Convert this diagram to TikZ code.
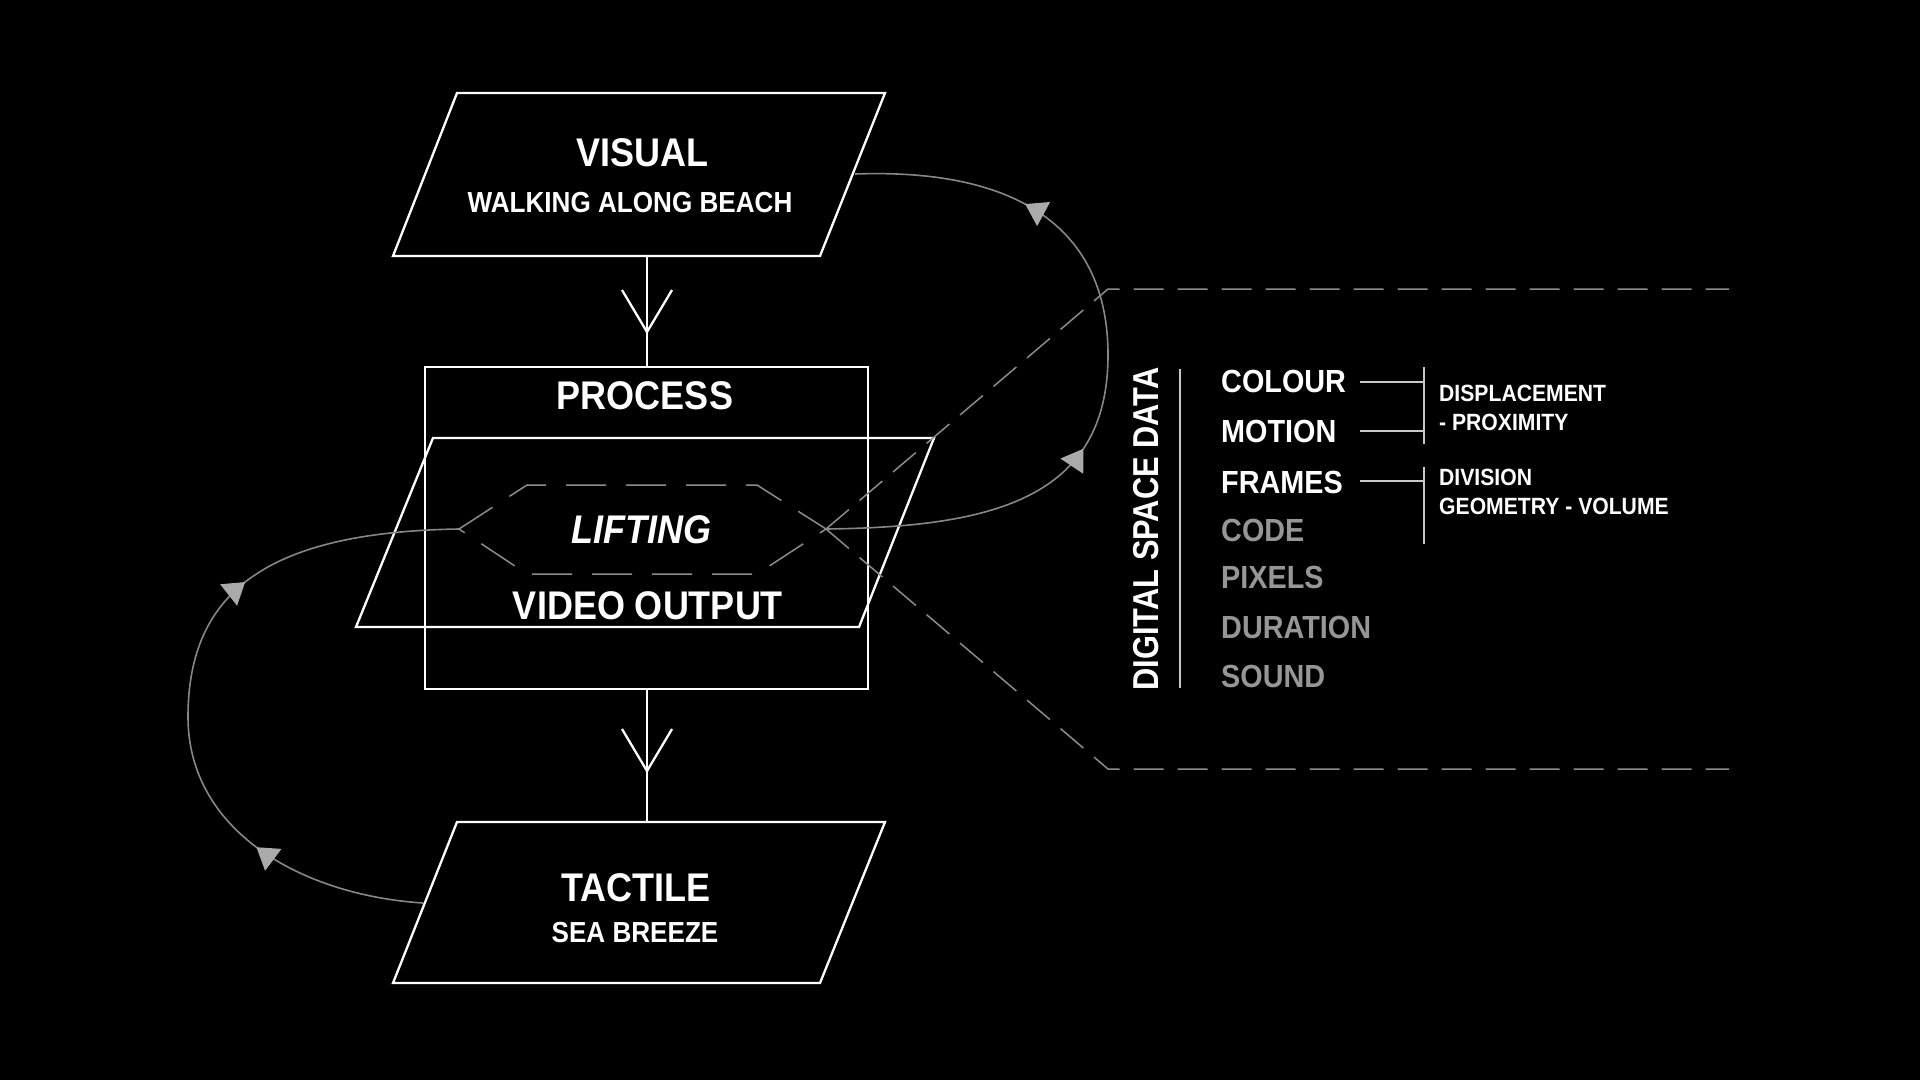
\documentclass[tikz,border=0pt]{standalone}
\usepackage{fontspec}
\setmainfont{Liberation Sans}[FakeStretch=0.9]
\newfontfamily\narrowfont{Liberation Sans}[FakeStretch=0.855]
\usetikzlibrary{arrows.meta,decorations.markings}
\definecolor{curvegray}{RGB}{135,135,135}
\definecolor{tipgray}{RGB}{170,170,170}
\definecolor{dashgray}{RGB}{140,140,140}
\definecolor{dimtxt}{RGB}{150,150,150}
\definecolor{treegray}{RGB}{200,200,200}
\begin{document}
\begin{tikzpicture}[x=1pt,y=-1pt,
  shapeline/.style={draw=white, line width=2.3pt, line join=miter},
  flowline/.style={draw=white, line width=2.3pt},
  loopcurve/.style={draw=curvegray, line width=1.6pt},
  hexdash/.style={draw=dashgray, line width=1.5pt, dash pattern=on 40pt off 20pt},
  longdash/.style={draw=dashgray, line width=1.5pt, dash pattern=on 30pt off 14pt},
  treeline/.style={draw=treegray, line width=1.5pt},
  bigtxt/.style={text=white, inner sep=0pt, font=\fontsize{40}{44}\selectfont\bfseries},
  subtxt/.style={text=white, inner sep=0pt, font=\fontsize{29}{32}\selectfont\bfseries},
  listtxt/.style={text=white, inner sep=0pt, anchor=west, font=\fontsize{32}{36}\selectfont\bfseries},
  dimlist/.style={listtxt, text=dimtxt},
  notetxt/.style={text=white, inner sep=0pt, anchor=west, font=\fontsize{23.5}{26}\selectfont\bfseries},
  flowtips/.style 2 args={postaction={decorate}, decoration={markings,
     mark=at position #1 with {\arrow{Triangle[length=21pt,width=27pt,color=tipgray]}},
     mark=at position #2 with {\arrow{Triangle[length=21pt,width=27pt,color=tipgray]}}}},
]
\fill[black] (0,0) rectangle (1920,1080);
\useasboundingbox (0,0) rectangle (1920,1080);

% ---------- VISUAL ----------
\coordinate (vis1) at (457,93);
\coordinate (vis2) at (885,93);
\coordinate (vis3) at (820,256);
\coordinate (vis4) at (393,256);
\draw[shapeline] (vis1) -- (vis2) -- (vis3) -- (vis4) -- cycle;
\node[bigtxt] (visual) at (642,153) {VISUAL};
\node[subtxt] (walking) at (630,203) {WALKING ALONG BEACH};
\coordinate (visbot) at (647,256);
\coordinate (visR) at (855,174);

% ---------- PROCESS ----------
\coordinate (proc1) at (425,367);
\coordinate (proc2) at (868,689);
\draw[shapeline] (proc1) rectangle (proc2);
\node[bigtxt] (process) at (645,396) {PROCESS};
\coordinate (proctop) at (647,367);
\coordinate (procbot) at (647,689);

% ---------- VIDEO OUTPUT ----------
\coordinate (vid1) at (433,438);
\coordinate (vid2) at (934,438);
\coordinate (vid3) at (859,627);
\coordinate (vid4) at (356,627);
\draw[shapeline] (vid1) -- (vid2) -- (vid3) -- (vid4) -- cycle;
\node[bigtxt] (video) at (648,606) {VIDEO OUTPUT};

% ---------- LIFTING ----------
\coordinate (liftL) at (459,529);
\coordinate (liftR) at (826,529);
\draw[hexdash] (liftL) -- (527,485) -- (757,485) -- (liftR) -- (757,574) -- (527,574) -- cycle;
\node[bigtxt, font=\fontsize{40}{44}\selectfont\bfseries\itshape] (lifting) at (641,530) {LIFTING};

% ---------- TACTILE ----------
\coordinate (tac1) at (457,822);
\coordinate (tac2) at (885,822);
\coordinate (tac3) at (820,983);
\coordinate (tac4) at (393,983);
\draw[shapeline] (tac1) -- (tac2) -- (tac3) -- (tac4) -- cycle;
\node[bigtxt] (tactile) at (636,888) {TACTILE};
\node[subtxt] (breeze) at (635,933) {SEA BREEZE};
\coordinate (tactop) at (647,822);
\coordinate (tacL) at (423,903);

% ---------- main flow ----------
\draw[flowline] (visbot) -- (proctop);
\draw[flowline] (622,290) -- (647,332) -- (672,290);
\draw[flowline] (procbot) -- (tactop);
\draw[flowline] (622,729) -- (647,771) -- (672,729);

% ---------- loops ----------
\draw[loopcurve, flowtips={280pt}{560pt}] (liftR) .. controls (990,527) and (1108,500) .. (1108,355)
   .. controls (1108,230) and (1020,168) .. (visR);
\draw[loopcurve, flowtips={178pt}{483pt}] (tacL) .. controls (300,895) and (188,830) .. (188,717)
   .. controls (188,590) and (270,532) .. (liftL);

% ---------- digital space zoom lines ----------
\coordinate (zoomTop) at (1108,289);
\coordinate (zoomBot) at (1108,769);
\coordinate (zoomTopEnd) at (1729,289);
\coordinate (zoomBotEnd) at (1729,769);
\draw[longdash] (liftR) -- (zoomTop) -- (zoomTopEnd);
\draw[longdash] (liftR) -- (zoomBot) -- (zoomBotEnd);

% ---------- DIGITAL SPACE DATA ----------
\node[text=white, inner sep=0pt, rotate=90, font=\narrowfont\fontsize{36}{40}\selectfont\bfseries] (dsd) at (1146,529) {DIGITAL SPACE DATA};
\coordinate (sepTop) at (1180,369);
\coordinate (sepBot) at (1180,688);
\draw[treeline] (sepTop) -- (sepBot);

\node[listtxt] (colour) at (1221,381) {COLOUR};
\node[listtxt] (motion) at (1221,431) {MOTION};
\node[listtxt] (frames) at (1221,482) {FRAMES};
\node[dimlist] (code) at (1221,530) {CODE};
\node[dimlist] (pixels) at (1221,577) {PIXELS};
\node[dimlist] (duration) at (1221,627) {DURATION};
\node[dimlist] (sound) at (1221,676) {SOUND};

% ---------- brackets ----------
\coordinate (b1top) at (1424,367);
\coordinate (b1bot) at (1424,444);
\coordinate (b2top) at (1424,467);
\coordinate (b2bot) at (1424,544);
\draw[treeline] (b1top) -- (b1bot);
\draw[treeline] (b2top) -- (b2bot);
\draw[treeline] (1360,382) -- (1424,382);
\draw[treeline] (1360,431) -- (1424,431);
\draw[treeline] (1360,481) -- (1424,481);

\node[notetxt] (displ) at (1439,393) {DISPLACEMENT};
\node[notetxt] (prox) at (1439,422) {- PROXIMITY};
\node[notetxt] (divis) at (1439,477) {DIVISION};
\node[notetxt] (geom) at (1439,506) {GEOMETRY - VOLUME};
\end{tikzpicture}
\end{document}
